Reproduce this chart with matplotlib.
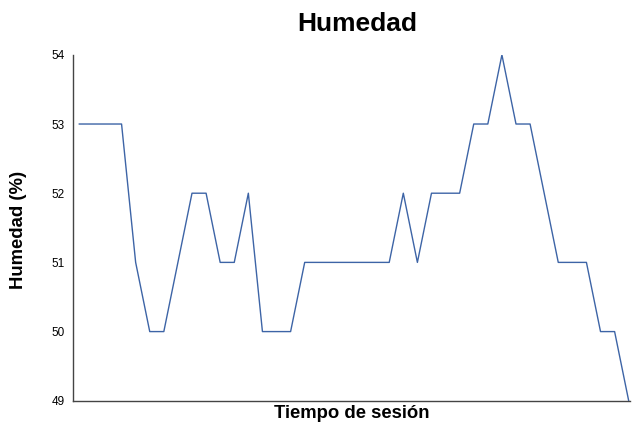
import matplotlib
matplotlib.use("Agg")
import matplotlib.pyplot as plt

plt.rcParams['font.family'] = ['Liberation Sans', 'DejaVu Sans']

# humedad, un punto por muestra
humedad = [53, 53, 53, 53, 51, 50, 50, 51, 52, 52,
           51, 51, 52, 50, 50, 50, 51, 51, 51, 51,
           51, 51, 51, 52, 51, 52, 52, 52, 53, 53,
           54, 53, 53, 52, 51, 51, 51, 50, 50, 49]
muestras = list(range(len(humedad)))
yticks = [49, 50, 51, 52, 53, 54]

fig = plt.figure(figsize=(6.32, 4.25), dpi=100)
ax = fig.add_axes([0.115, 0.057, 0.882, 0.814])

ax.plot(muestras, humedad, color='#3d64a6', linewidth=1.0)

ax.set_xlim(-0.47, 39.1)
ax.set_ylim(49, 54)
ax.set_yticks(yticks)
ax.set_yticklabels([str(t) for t in yticks], fontsize=8.5)
ax.set_xticks([])
ax.tick_params(axis='y', length=0, pad=6)

for s in ['top', 'right']:
    ax.spines[s].set_visible(False)
for s in ['left', 'bottom']:
    ax.spines[s].set_color('#444444')
    ax.spines[s].set_linewidth(1.0)

fig.text(0.565, 0.943, 'Humedad', ha='center', va='center',
         fontsize=19, fontweight='bold')
ax.set_xlabel('Tiempo de sesión', fontsize=13.3, fontweight='bold', labelpad=3)
fig.text(0.030, 0.459, 'Humedad (%)', rotation=90, ha='center', va='center',
         fontsize=13.3, fontweight='bold')

fig.savefig('out.png', dpi=100)
